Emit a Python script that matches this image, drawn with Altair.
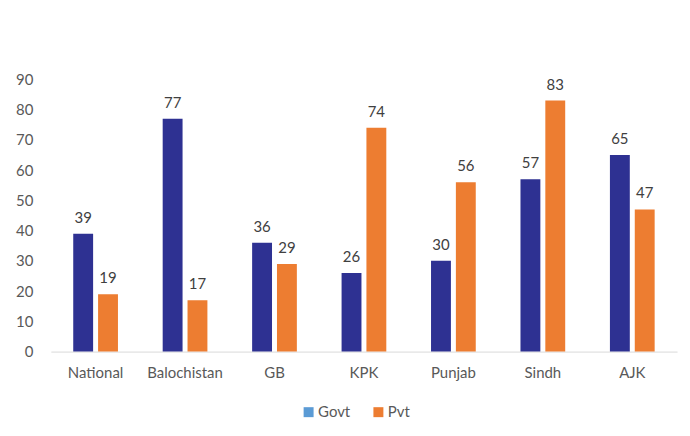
import altair as alt
import pandas as pd

regions = ["National", "Balochistan", "GB", "KPK", "Punjab", "Sindh", "AJK"]
govt = [39, 77, 36, 26, 30, 57, 65]
pvt = [19, 17, 29, 74, 56, 83, 47]
series = ["Govt", "Pvt"]
y_ticks = [0, 10, 20, 30, 40, 50, 60, 70, 80, 90]

rows = []
for r, g, p in zip(regions, govt, pvt):
    rows.append({"region": r, "type": "Govt", "key": "GovtBar", "value": g})
    rows.append({"region": r, "type": "Pvt", "key": "Pvt", "value": p})
df = pd.DataFrame(rows)

FONT = "Lato"
GRAY = "#595959"

x = alt.X("region:N", sort=regions, title=None,
          scale=alt.Scale(paddingInner=0.5, paddingOuter=0.25),
          axis=alt.Axis(labelAngle=0, ticks=False, domainColor="#D9D9D9",
                        labelPadding=14, labelFontSize=15, labelColor=GRAY,
                        labelFont=FONT))
xoff = alt.XOffset("type:N", sort=series,
                   scale=alt.Scale(paddingInner=0.2, paddingOuter=0))
y = alt.Y("value:Q", title=None,
          scale=alt.Scale(domain=[0, 90], nice=False),
          axis=alt.Axis(values=y_ticks, grid=False, domain=False, ticks=False,
                        labelOverlap=False,
                        labelPadding=18, labelFontSize=15, labelColor=GRAY,
                        labelFont=FONT))

bars = alt.Chart(df).mark_bar().encode(
    x=x, xOffset=xoff, y=y,
    color=alt.Color("key:N", title=None,
                    scale=alt.Scale(domain=["Govt", "Pvt", "GovtBar"],
                                    range=["#5B9BD5", "#ED7D31", "#2E3192"]),
                    legend=alt.Legend(values=series,
                                      orient="none", legendX=251, legendY=326,
                                      direction="horizontal",
                                      symbolType="square", symbolSize=100,
                                      symbolStrokeWidth=0, labelOffset=2,
                                      labelFontSize=15, labelColor=GRAY,
                                      labelFont=FONT, columnPadding=20)),
)

labels = alt.Chart(df).mark_text(baseline="bottom", dy=-8, fontSize=15,
                                  color="#404040", font=FONT).encode(
    x=x, xOffset=xoff, y=y, text="value:Q")

chart = alt.layer(bars, labels).properties(
    width=628, height=273,
    padding={"left": 7, "top": 64, "right": 5, "bottom": 5},
    background="white",
).configure_view(stroke=None)

chart.save("out.html", embed_options={"renderer": "svg", "actions": False})
